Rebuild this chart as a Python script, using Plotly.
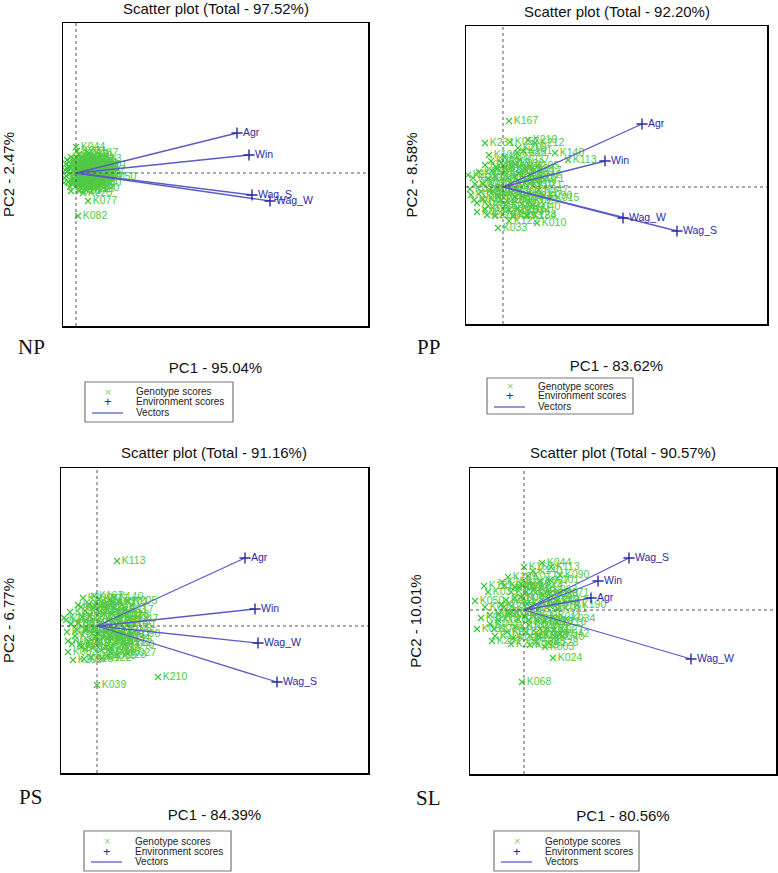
import plotly.graph_objects as go

W, H = 778, 873

# ---------------- data ----------------
genotypes = ["K001", "K003", "K005", "K008", "K010", "K012", "K015", "K018", "K020", "K022",
             "K024", "K027", "K029", "K033", "K034", "K036", "K039", "K042", "K044", "K047",
             "K050", "K053", "K057", "K060", "K063", "K068", "K071", "K077", "K082", "K085",
             "K090", "K094", "K101", "K105", "K109", "K113", "K117", "K122", "K128", "K140",
             "K151", "K158", "K167", "K184", "K190", "K205", "K210", "K212", "K225", "K231",
             "K002", "K004", "K006", "K007", "K009", "K011", "K013", "K014", "K016", "K017",
             "K019", "K021", "K023", "K025", "K026", "K028", "K030", "K031", "K032", "K035",
             "K037", "K038", "K040", "K041", "K043", "K045", "K046", "K048", "K049", "K051"]

environments = ["Agr", "Win", "Wag_S", "Wag_W"]

# NP panel scores
np_gen_pc1 = [0.2, -0.8, 0.7, 0.4, -0.4, 1.1, 0.1, 1.5, -1.0, 0.9,
              0.6, 1.8, 0.3, -0.6, 1.0, -0.5, 0.0, 1.2, 0.0, 2.0,
              3.1, -1.1, 0.6, 1.6, 0.4, -0.2, 0.8, 1.2, 0.2, 1.3,
              -0.9, 0.3, 2.2, 1.0, -0.3, 1.7, 0.5, -1.2, 0.9, 1.4,
              0.1, -0.7, 1.3, 1.7, 0.4, 0.8, -0.1, 1.4, 0.7, 0.1,
              -0.6, 0.5, -0.2, 0.9, -1.0, 0.3, 1.2, -0.4, 0.7, -0.9,
              0.0, 1.0, -0.3, 0.6, -0.7, 0.2, 1.1, -1.1, 0.4, 0.8,
              -0.5, 0.1, 0.9, -0.8, 0.5, -0.2, 0.3, 1.3, -0.6, 0.6]
np_gen_pc2 = [0.4, 0.2, -0.4, 1.1, -0.8, 0.6, -1.2, 0.2, 0.9, 1.4,
              -0.9, -0.5, 1.9, -1.4, -1.1, -1.8, -0.3, 1.0, 2.6, 0.3,
              -0.4, -0.5, 0.2, -1.0, -0.6, 1.4, 1.8, -2.8, -4.3, -0.2,
              1.3, -1.8, 0.8, 0.1, 0.7, 1.4, 1.5, -1.0, -1.6, -1.5,
              0.9, 0.6, 2.0, -0.3, -1.4, 0.9, -0.7, 0.7, -2.0, 2.2,
              0.6, -0.2, 1.3, -0.7, -0.3, 0.9, 0.3, -1.1, 1.0, 0.5,
              0.1, -0.4, -0.6, 0.7, 1.1, -0.9, 1.2, 0.3, 0.0, -1.2,
              1.6, 1.5, 0.4, -0.9, -0.3, 0.2, -1.0, 0.9, -0.1, 0.5]
np_env_pc1 = [16.1, 17.3, 17.6, 19.4]
np_env_pc2 = [4.0, 1.8, -2.2, -2.8]

# PP panel scores
pp_gen_pc1 = [-1.5, -2.8, 0.8, 1.6, 3.4, -0.6, 4.7, 2.2, -2.0, 1.2,
              0.3, 2.6, -1.0, -0.5, 1.8, -3.2, 0.5, 2.9, -1.2, 3.6,
              -2.4, 1.0, 0.7, -0.3, 2.0, -1.8, 3.2, 0.1, -2.6, 1.4,
              4.0, -0.8, 2.0, 2.7, -1.4, 6.5, 3.0, 0.6, 2.4, 5.2,
              -3.5, 1.1, 0.6, 2.4, -0.2, 1.5, 2.5, 3.2, -1.6, -1.8,
              -2.2, -0.8, 0.4, 1.5, -3.0, 2.6, -1.5, 0.9, -2.6, 1.9,
              -0.2, 3.0, -1.1, 0.6, -3.3, 2.2, 1.2, -0.5, -2.0, 0.2,
              1.7, -1.3, 2.8, -2.9, 0.8, -0.7, 1.4, -1.8, 2.4, 0.0]
pp_gen_pc2 = [0.8, 0.3, -0.6, 1.4, -3.6, 1.8, -1.1, 0.4, -1.2, 2.3,
              -1.8, -1.4, -0.4, -4.1, -2.4, -0.8, 0.9, 1.2, 2.6, -0.3,
              1.5, -2.9, 4.5, 0.1, -0.9, -2.2, 0.8, 3.0, -2.5, 3.4,
              -0.9, -2.9, 3.6, 2.1, 3.2, 2.7, 1.6, -3.4, -2.8, 3.4,
              1.2, 1.0, 6.6, -2.9, -1.3, 3.9, 4.7, 4.4, -2.8, 4.4,
              -0.5, 1.1, -1.4, 0.6, 0.9, -0.6, -1.9, 2.0, -1.6, -1.7,
              2.4, 0.2, 1.6, -2.3, -0.2, 1.8, -1.0, -0.9, 0.3, 1.5,
              2.7, -0.3, -2.0, -1.3, 0.3, 2.0, -2.2, 2.2, 0.7, -0.6]
pp_env_pc1 = [13.9, 10.2, 17.4, 12.0]
pp_env_pc2 = [6.3, 2.6, -4.4, -3.1]

# PS panel scores
ps_gen_pc1 = [-1.5, -2.6, 0.9, 1.5, -0.8, -0.4, 2.2, 1.8, -2.2, 0.8,
              0.3, 3.0, -1.0, -1.9, 2.4, -3.0, 0.0, 1.2, -1.2, 3.2,
              -2.7, 1.4, 0.4, -0.3, 2.0, -1.7, 2.7, 0.2, -2.9, 1.0,
              3.4, -0.6, 2.2, -2.4, -1.4, 2.0, 2.8, 0.5, 2.0, 1.7,
              -3.3, 0.7, -0.3, 1.3, -0.1, 3.1, 6.1, 2.6, -1.3, 0.9,
              -2.0, -0.7, 0.6, 1.6, -3.1, 2.5, -1.6, 0.9, -2.5, 1.9,
              -0.2, 3.0, -1.2, 0.4, -2.9, 2.3, 1.2, -0.5, -1.9, 0.2,
              1.5, -1.2, 2.8, -2.6, 0.8, -0.8, 1.3, -1.6, 2.2, 0.1]
ps_gen_pc2 = [0.9, 0.2, -0.5, 1.2, -1.6, 1.9, 0.3, -0.9, -1.0, 2.2,
              -1.4, -2.7, -0.3, 2.1, -1.2, -0.6, -5.9, 0.6, -2.3, 0.7,
              1.4, -2.2, 0.4, -0.2, 1.6, -1.8, -0.2, 2.7, -2.6, -3.0,
              -0.8, -3.1, 2.4, -3.4, 2.8, 6.5, 1.6, -3.2, -2.9, 2.9,
              0.8, 1.2, 3.0, -1.5, -1.1, 2.5, -5.1, -1.7, -3.3, -2.1,
              -0.4, 1.0, -1.2, 0.5, 0.6, -0.7, -2.1, 1.8, -1.8, -1.6,
              2.0, 0.1, 1.5, -2.4, -1.5, 1.1, -1.0, -0.8, 0.3, 1.4,
              2.4, -0.4, -1.9, 0.2, 0.3, 2.2, -2.6, 1.9, 0.9, -0.7]
ps_env_pc1 = [14.8, 15.8, 18.0, 16.1]
ps_env_pc2 = [6.8, 1.7, -5.6, -1.7]

# SL panel scores
sl_gen_pc1 = [-1.8, 2.1, 1.0, 1.9, -0.9, -0.5, 2.6, 2.0, -2.6, 0.9,
              2.9, 3.0, -1.2, -3.6, 4.2, -3.4, 0.3, 3.6, 1.8, 3.3,
              -4.9, 1.4, 0.5, -0.3, 2.4, -0.2, 3.6, 0.4, -4.7, 1.2,
              3.6, -1.1, 2.6, -2.9, -1.6, 2.7, 1.5, 0.2, 2.5, 0.9,
              -4.0, -2.2, 0.0, 1.6, 5.3, -1.3, 3.3, -2.0, 0.6, -3.2,
              -2.5, -0.9, 0.5, 1.8, -3.9, 2.9, -1.7, 1.0, -3.0, 2.2,
              -0.3, 3.4, -1.3, 0.6, -4.3, 2.5, 1.3, -0.6, -2.3, 0.2,
              1.6, -1.5, 3.1, -3.4, 0.8, -0.9, 1.5, -2.0, 2.6, 0.1]
sl_gen_pc2 = [1.0, -3.7, -0.6, 1.5, -1.7, 2.2, 0.4, -1.2, -1.0, 2.6,
              -4.8, -2.0, -0.2, 1.8, -0.9, -0.5, 0.6, -2.4, 4.7, 0.9,
              0.9, -2.6, -1.0, 1.3, 2.0, -7.2, 1.7, 3.4, -1.9, -3.2,
              3.5, -2.8, 3.0, -2.6, 3.3, 4.3, 0.2, -2.2, -3.3, 3.9,
              2.4, 2.8, 4.3, -1.9, 0.5, -3.4, -1.2, 0.3, -3.5, -3.1,
              -0.4, 1.2, -1.5, 0.7, 0.3, -0.7, -2.2, 2.1, -1.9, -1.9,
              2.6, 0.1, 1.8, -2.6, -0.8, 1.6, -1.1, -0.9, 0.5, 1.8,
              2.9, -0.3, -2.7, -1.4, 0.4, 2.3, -2.5, 2.4, 1.0, -0.6]
sl_env_pc1 = [6.7, 7.4, 10.5, 16.7]
sl_env_pc2 = [1.2, 2.9, 5.2, -4.9]

panel_tags = ["NP", "PP", "PS", "SL"]
total_pct = ["97.52", "92.20", "91.16", "90.57"]
pc1_pct = ["95.04", "83.62", "84.39", "80.56"]
pc2_pct = ["2.47", "8.58", "6.77", "10.01"]
legend_labels = ["Genotype scores", "Environment scores", "Vectors"]

# ---------------- layout geometry (page pixels) ----------------
layout_px = [
    dict(box=(63, 23, 368, 326), xr=(-1.3, 29.2), yr=(-15.3, 15.0), title_y=9, tag=(32, 347), leg=(85, 382, 233, 422)),
    dict(box=(466, 26, 767, 324), xr=(-3.7, 26.4), yr=(-13.7, 16.1), title_y=12, tag=(428, 347), leg=(487, 378, 633, 414)),
    dict(box=(61, 468, 368, 773), xr=(-3.6, 27.1), yr=(-14.7, 15.8), title_y=452, tag=(30, 797), leg=(84, 831, 231, 871)),
    dict(box=(470, 468, 776, 774), xr=(-5.4, 25.2), yr=(-16.4, 14.2), title_y=452, tag=(428, 798), leg=(494, 831, 639, 871)),
]

gen_x = [np_gen_pc1, pp_gen_pc1, ps_gen_pc1, sl_gen_pc1]
gen_y = [np_gen_pc2, pp_gen_pc2, ps_gen_pc2, sl_gen_pc2]
env_x = [np_env_pc1, pp_env_pc1, ps_env_pc1, sl_env_pc1]
env_y = [np_env_pc2, pp_env_pc2, ps_env_pc2, sl_env_pc2]

GREEN = "#3cc836"
GREEN_TXT = "#52c944"
VEC = "#5b5bc6"
ENV = "#2a2aa6"
FONT = "Liberation Sans"


def px(x):
    return x / W


def py(y):
    return 1 - y / H


fig = go.Figure()
shapes, annotations = [], []

for i in range(4):
    L = layout_px[i]
    sfx = "" if i == 0 else str(i + 1)
    xa, ya = "x" + sfx, "y" + sfx
    # genotype scores
    fig.add_trace(go.Scatter(
        x=gen_x[i], y=gen_y[i], text=genotypes, mode="markers+text",
        textposition="middle right",
        textfont=dict(family=FONT, size=10.5, color=GREEN_TXT),
        marker=dict(symbol="x-thin", size=6, line=dict(width=1.2, color=GREEN), color=GREEN),
        name=legend_labels[0], showlegend=False, xaxis=xa, yaxis=ya))
    # vectors from origin
    vx, vy = [], []
    for ex, ey in zip(env_x[i], env_y[i]):
        vx += [0, ex, None]
        vy += [0, ey, None]
    fig.add_trace(go.Scatter(
        x=vx, y=vy, mode="lines", line=dict(color=VEC, width=1.3),
        name=legend_labels[2], showlegend=False, xaxis=xa, yaxis=ya))
    # environment scores
    fig.add_trace(go.Scatter(
        x=env_x[i], y=env_y[i], text=environments, mode="markers+text",
        textposition="middle right",
        textfont=dict(family=FONT, size=10.5, color=ENV),
        marker=dict(symbol="cross-thin", size=8, line=dict(width=1.4, color=ENV), color=ENV),
        name=legend_labels[1], showlegend=False, xaxis=xa, yaxis=ya))

    x0, y0, x1, y1 = L["box"]
    axis_common = dict(showgrid=False, zeroline=False, showticklabels=False, ticks="",
                       showline=True, mirror=True, linecolor="black", linewidth=1.5,
                       fixedrange=True)
    fig.update_layout(**{
        "xaxis" + sfx: dict(domain=[px(x0), px(x1)], range=list(L["xr"]), anchor=ya,
                            title=dict(text="PC1 - " + pc1_pct[i] + "%", standoff=36,
                                       font=dict(family=FONT, size=15, color="#111")),
                            **axis_common),
        "yaxis" + sfx: dict(domain=[py(y1), py(y0)], range=list(L["yr"]), anchor=xa,
                            title=dict(text="PC2 - " + pc2_pct[i] + "%", standoff=43,
                                       font=dict(family=FONT, size=15, color="#111")),
                            **axis_common),
    })
    # dotted reference lines through the origin
    shapes.append(dict(type="line", xref=xa, yref=ya + " domain", x0=0, x1=0, y0=0, y1=1,
                       line=dict(color="#555", width=1, dash="dot")))
    shapes.append(dict(type="line", xref=xa + " domain", yref=ya, x0=0, x1=1, y0=0, y1=0,
                       line=dict(color="#555", width=1, dash="dot")))
    # title
    annotations.append(dict(text="Scatter plot (Total - " + total_pct[i] + "%)", xref="paper", yref="paper",
                            x=px((x0 + x1) / 2), y=py(L["title_y"]), xanchor="center", yanchor="middle",
                            showarrow=False, font=dict(family=FONT, size=15, color="#111")))
    # panel tag
    tx, ty = L["tag"]
    annotations.append(dict(text=panel_tags[i], xref="paper", yref="paper", x=px(tx), y=py(ty),
                            xanchor="center", yanchor="middle", showarrow=False,
                            font=dict(family="Liberation Serif", size=21, color="#111")))
    # legend box
    lx0, ly0, lx1, ly1 = L["leg"]
    shapes.append(dict(type="rect", xref="paper", yref="paper", x0=px(lx0), x1=px(lx1),
                       y0=py(ly1), y1=py(ly0), line=dict(color="#777", width=1.2)))
    rows = [(ly0 + ly1) / 2 - 10, (ly0 + ly1) / 2, (ly0 + ly1) / 2 + 10]
    sym_x = lx0 + 23
    txt_x = lx0 + 49
    annotations.append(dict(text="×", xref="paper", yref="paper", x=px(sym_x), y=py(rows[0]),
                            xanchor="center", yanchor="middle", showarrow=False,
                            font=dict(family=FONT, size=11, color="#7fd070")))
    annotations.append(dict(text="+", xref="paper", yref="paper", x=px(sym_x), y=py(rows[1]),
                            xanchor="center", yanchor="middle", showarrow=False,
                            font=dict(family=FONT, size=13, color=ENV)))
    shapes.append(dict(type="line", xref="paper", yref="paper", x0=px(lx0 + 7), x1=px(lx0 + 38),
                       y0=py(rows[2] + 1), y1=py(rows[2] + 1), line=dict(color=VEC, width=1.3)))
    for r, lab in zip(rows, legend_labels):
        annotations.append(dict(text=lab, xref="paper", yref="paper", x=px(txt_x), y=py(r),
                                xanchor="left", yanchor="middle", showarrow=False,
                                font=dict(family=FONT, size=10, color="#222")))

fig.update_layout(
    width=W, height=H, margin=dict(l=0, r=0, t=0, b=0),
    paper_bgcolor="white", plot_bgcolor="white",
    font=dict(family=FONT, color="#111"),
    showlegend=False, hovermode=False, shapes=shapes, annotations=annotations,
)

# place the figure at the page's top-left corner (no default 8px body margin)
fig.write_html("out.html", config={"displayModeBar": False, "staticPlot": True},
               post_script="document.body.style.margin='0px';document.body.style.overflow='hidden';")
